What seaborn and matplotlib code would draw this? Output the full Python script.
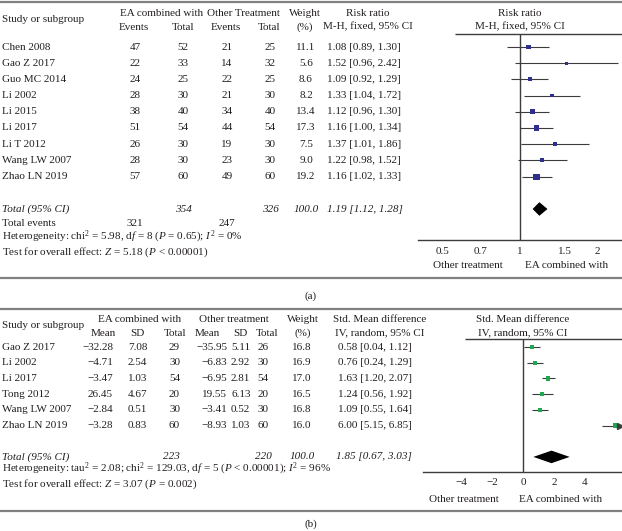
import numpy as np
import pandas as pd
import seaborn as sns
import matplotlib.pyplot as plt

# ---- panel (a): dichotomous outcome, risk ratio ----
studies_a = ["Chen 2008", "Gao Z 2017", "Guo MC 2014", "Li 2002", "Li 2015",
             "Li 2017", "Li T 2012", "Wang LW 2007", "Zhao LN 2019"]
ea_events = [47, 22, 24, 28, 38, 51, 26, 28, 57]
ea_total = [52, 33, 25, 30, 40, 54, 30, 30, 60]
ot_events = [21, 14, 22, 21, 34, 44, 19, 23, 49]
ot_total = [25, 32, 25, 30, 40, 54, 30, 30, 60]
weight_a = [11.1, 5.6, 8.6, 8.2, 13.4, 17.3, 7.5, 9.0, 19.2]
rr = [1.08, 1.52, 1.09, 1.33, 1.12, 1.16, 1.37, 1.22, 1.16]
rr_lo = [0.89, 0.96, 0.92, 1.04, 0.96, 1.00, 1.01, 0.98, 1.02]
rr_hi = [1.30, 2.42, 1.29, 1.72, 1.30, 1.34, 1.86, 1.52, 1.33]
tot_a = {"n1": 354, "n2": 326, "w": 100.0, "est": 1.19, "lo": 1.12, "hi": 1.28,
         "ev1": 321, "ev2": 247}
ticks_a = [0.5, 0.7, 1, 1.5, 2]

# ---- panel (b): continuous outcome, std. mean difference ----
studies_b = ["Gao Z 2017", "Li 2002", "Li 2017", "Tong 2012", "Wang LW 2007", "Zhao LN 2019"]
ea_mean = [-32.28, -4.71, -3.47, 26.45, -2.84, -3.28]
ea_sd = [7.08, 2.54, 1.03, 4.67, 0.51, 0.83]
ea_n = [29, 30, 54, 20, 30, 60]
ot_mean = [-35.95, -6.83, -6.95, 19.55, -3.41, -8.93]
ot_sd = [5.11, 2.92, 2.81, 6.13, 0.52, 1.03]
ot_n = [26, 30, 54, 20, 30, 60]
weight_b = [16.8, 16.9, 17.0, 16.5, 16.8, 16.0]
smd = [0.58, 0.76, 1.63, 1.24, 1.09, 6.00]
smd_lo = [0.04, 0.24, 1.20, 0.56, 0.55, 5.15]
smd_hi = [1.12, 1.29, 2.07, 1.92, 1.64, 6.85]
tot_b = {"n1": 223, "n2": 220, "w": 100.0, "est": 1.85, "lo": 0.67, "hi": 3.03}
ticks_b = [-4, -2, 0, 2, 4]

sns.set_style("white")
plt.rcParams["font.family"] = ["Liberation Serif", "DejaVu Serif"]
plt.rcParams["mathtext.fontset"] = "custom"
plt.rcParams["mathtext.rm"] = "Liberation Serif"
plt.rcParams["mathtext.it"] = "Liberation Serif:italic"

TXT = "#231f20"
LINE = "#3c3c3c"
RULE = "#808080"
NAVY = "#2e2f8f"
GREEN = "#1ea84f"
FS = 8
W, H = 622, 531

fig = plt.figure(figsize=(W / 100, H / 100), dpi=100)
ov = fig.add_axes([0, 0, 1, 1])
ov.set_xlim(0, W)
ov.set_ylim(H, 0)
ov.axis("off")


def t(x, y, s, ha="center", style="normal", fs=FS):
    ov.text(x, y, s, ha=ha, va="center", fontsize=fs, color=TXT, style=style)


def rule(y, x0=0, x1=W, lw=1.6, c=RULE):
    ov.plot([x0, x1], [y, y], color=c, lw=lw, solid_capstyle="butt")


def fmt(v, d=2):
    return f"{v:.{d}f}".replace("-", "\u2212")


def forest_axes(x0, x1, y_top, y_bot, row0, step):
    ax = fig.add_axes([x0 / W, 1 - y_bot / H, (x1 - x0) / W, (y_bot - y_top) / H])
    ax.set_facecolor("none")
    for s in ["left", "right", "top"]:
        ax.spines[s].set_visible(False)
    ax.spines["bottom"].set_color(LINE)
    ax.spines["bottom"].set_linewidth(1.0)
    ax.set_yticks([])
    return ax


# ================= panel (a) =================
row0_a, step_a = 47, 16.2
rule(2)
t(2, 20, "Study or subgroup", ha="left")
t(162, 14, "EA combined with")
t(243, 14, "Other Treatment")
t(134, 27, "Events"); t(183, 27, "Total")
t(226, 27, "Events"); t(269, 27, "Total")
t(305, 14, "Weight"); t(305, 27, "(%)")
t(368, 14, "Risk ratio"); t(368, 27, "M-H, fixed, 95% CI")
t(520, 14, "Risk ratio"); t(520, 27, "M-H, fixed, 95% CI")
rule(34, 455, W, lw=1.0, c=LINE)

for i, name in enumerate(studies_a):
    y = row0_a + step_a * i
    t(2, y, name, ha="left")
    t(135, y, str(ea_events[i])); t(183, y, str(ea_total[i]))
    t(227, y, str(ot_events[i])); t(270, y, str(ot_total[i]))
    t(306, y, fmt(weight_a[i], 1))
    t(327, y, f"{fmt(rr[i])} [{fmt(rr_lo[i])}, {fmt(rr_hi[i])}]", ha="left")

y_tot_a = row0_a + step_a * 10
t(2, y_tot_a, "Total (95% CI)", ha="left", style="italic")
t(183, y_tot_a, str(tot_a["n1"]), style="italic")
t(270, y_tot_a, str(tot_a["n2"]), style="italic")
t(306, y_tot_a, fmt(tot_a["w"], 1), style="italic")
t(327, y_tot_a, f"{fmt(tot_a['est'])} [{fmt(tot_a['lo'])}, {fmt(tot_a['hi'])}]",
  ha="left", style="italic")
t(2, 223, "Total events", ha="left")
t(135, 223, str(tot_a["ev1"])); t(227, 223, str(tot_a["ev2"]))
t(2, 237, r"Heterogeneity: chi$^2$ = 5.98, d$f$ = 8 ($P$ = 0.65); $I^2$ = 0%", ha="left")
t(2, 252, r"Test for overall effect: $Z$ = 5.18 ($P$ < 0.00001)", ha="left")

ax_a = forest_axes(418, W, 34, 240, row0_a, step_a)
ax_a.set_xscale("log")
ax_a.set_xlim(0.4, 2.5)
ax_a.axvline(1, color=LINE, lw=1.0)
rows_a = np.arange(len(studies_a))
ax_a.hlines(rows_a, rr_lo, rr_hi, color=LINE, lw=0.8)
df_a = pd.DataFrame({"rr": rr, "row": rows_a, "w": weight_a})
sns.scatterplot(data=df_a, x="rr", y="row", size="w", sizes=(4, 20), size_norm=(5, 20),
                marker="s", color=NAVY, linewidth=0, legend=False, ax=ax_a, zorder=3)
ax_a.fill([tot_a["lo"], tot_a["est"], tot_a["hi"], tot_a["est"]],
          [10, 10 - 0.42, 10, 10 + 0.42], color="black", lw=0)
ax_a.set_xticks(ticks_a)
ax_a.set_xticklabels([str(v) for v in ticks_a])
ax_a.minorticks_off()
ax_a.tick_params(axis="x", length=0, pad=5, labelsize=FS, labelcolor=TXT)
ax_a.set_xlabel(""); ax_a.set_ylabel("")
ax_a.set_ylim((240 - row0_a) / step_a, (34 - row0_a) / step_a)
t(468, 266, "Other treatment")
t(567, 266, "EA combined with")
rule(278)
t(311, 296, "(a)")

# ================= panel (b) =================
row0_b, step_b = 347, 15.7
rule(309)
t(2, 326, "Study or subgroup", ha="left")
t(140, 319, "EA combined with")
t(234, 319, "Other treatment")
t(103, 333, "Mean"); t(137, 333, "SD"); t(175, 333, "Total")
t(207, 333, "Mean"); t(240, 333, "SD"); t(267, 333, "Total")
t(303, 319, "Weight"); t(303, 333, "(%)")
t(380, 319, "Std. Mean difference"); t(380, 333, "IV, random, 95% CI")
t(523, 319, "Std. Mean difference"); t(523, 333, "IV, random, 95% CI")
rule(339, 465, W, lw=1.0, c=LINE)

for i, name in enumerate(studies_b):
    y = row0_b + step_b * i
    t(2, y, name, ha="left")
    t(113, y, fmt(ea_mean[i]), ha="right")
    t(128, y, fmt(ea_sd[i]), ha="left")
    t(180, y, str(ea_n[i]), ha="right")
    t(227, y, fmt(ot_mean[i]), ha="right")
    t(231, y, fmt(ot_sd[i]), ha="left")
    t(263, y, str(ot_n[i]))
    t(302, y, fmt(weight_b[i], 1))
    t(412, y, f"{fmt(smd[i])} [{fmt(smd_lo[i])}, {fmt(smd_hi[i])}]", ha="right")

y_tot_b = row0_b + step_b * 7
t(2, y_tot_b, "Total (95% CI)", ha="left", style="italic")
t(180, y_tot_b, str(tot_b["n1"]), ha="right", style="italic")
t(263, y_tot_b, str(tot_b["n2"]), style="italic")
t(302, y_tot_b, fmt(tot_b["w"], 1), style="italic")
t(412, y_tot_b, f"{fmt(tot_b['est'])} [{fmt(tot_b['lo'])}, {fmt(tot_b['hi'])}]",
  ha="right", style="italic")
t(2, 469, r"Heterogeneity: tau$^2$ = 2.08; chi$^2$ = 129.03, d$f$ = 5 ($P$ < 0.00001); $I^2$ = 96%", ha="left")
t(2, 484, r"Test for overall effect: $Z$ = 3.07 ($P$ = 0.002)", ha="left")

ax_b = forest_axes(423, W, 339, 472, row0_b, step_b)
xmin_b, xmax_b = -6.5, 6.43
ax_b.set_xlim(xmin_b, xmax_b)
ax_b.axvline(0, color=LINE, lw=1.0)
rows_b = np.arange(len(studies_b))
hi_clip = np.minimum(smd_hi, xmax_b)
ax_b.hlines(rows_b, smd_lo, hi_clip, color=LINE, lw=0.8)
over = np.array(smd_hi) > xmax_b
ax_b.plot(np.full(over.sum(), xmax_b - 0.12), rows_b[over], ">", color=LINE,
          ms=4, clip_on=False, zorder=4)
df_b = pd.DataFrame({"smd": smd, "row": rows_b, "w": weight_b})
sns.scatterplot(data=df_b, x="smd", y="row", size="w", sizes=(9, 10), size_norm=(16, 17),
                marker="s", color=GREEN, linewidth=0, legend=False, ax=ax_b, zorder=3)
ax_b.fill([tot_b["lo"], tot_b["est"], tot_b["hi"], tot_b["est"]],
          [7, 7 - 0.4, 7, 7 + 0.4], color="black", lw=0)
ax_b.set_xticks(ticks_b)
ax_b.set_xticklabels([fmt(v, 0) for v in ticks_b])
ax_b.tick_params(axis="x", direction="in", length=3, width=0.8, color=LINE,
                 pad=4, labelsize=FS, labelcolor=TXT)
ax_b.set_xlabel(""); ax_b.set_ylabel("")
ax_b.set_ylim((472 - row0_b) / step_b, (339 - row0_b) / step_b)
t(464, 499, "Other treatment")
t(561, 499, "EA combined with")
rule(511)
t(311, 524, "(b)")

fig.savefig("out.png", dpi=100)
